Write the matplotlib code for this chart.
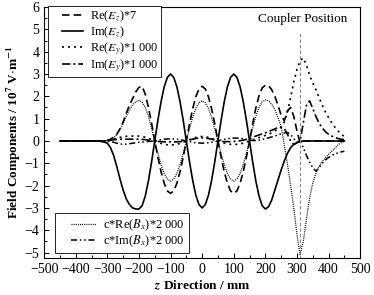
import matplotlib
matplotlib.use("Agg")
import matplotlib.pyplot as plt
from matplotlib.ticker import MultipleLocator
from matplotlib.legend_handler import HandlerLine2D

plt.rcParams['font.family'] = ['Liberation Serif', 'DejaVu Serif']
plt.rcParams['mathtext.fontset'] = 'stix'

# z positions along the structure, mm (every 10 mm)
z = list(range(-450, 451, 10))

# Im(Ez), solid
im_ez = [0]*13 + [
    -0.02, -0.05, -0.1, -0.3, -0.65, -1.15, -1.7, -2.2, -2.6, -2.85,
    -3.0, -3.05, -3.05, -2.9, -2.47, -1.79, -0.94, 0, 0.93, 1.76,
    2.43, 2.85, 3.0, 2.85, 2.43, 1.76, 0.93, 0, -0.93, -1.76,
    -2.43, -2.85, -3.0, -2.85, -2.43, -1.76, -0.93, 0, 0.93, 1.76,
    2.43, 2.85, 3.0, 2.85, 2.43, 1.76, 0.93, 0, -0.95, -1.8,
    -2.47, -2.9, -3.05, -2.95, -2.65, -2.2, -1.75, -1.3, -0.9, -0.55,
    -0.3, -0.15, -0.07, -0.02] + [0]*14

# Re(Ez)*7, dashed
re_ez = [0]*15 + [
    0.02, 0.08, 0.17, 0.3, 0.55, 0.85, 1.25, 1.6, 1.9, 2.2,
    2.4, 2.45, 2.1, 1.5, 0.8, 0, -0.73, -1.38, -1.9, -2.24,
    -2.35, -2.24, -1.9, -1.38, -0.73, 0, 0.76, 1.44, 1.98, 2.33,
    2.45, 2.33, 1.98, 1.44, 0.76, 0, -0.73, -1.38, -1.9, -2.24,
    -2.35, -2.24, -1.9, -1.38, -0.73, 0, 0.78, 1.48, 2.03, 2.38,
    2.5, 2.48, 2.3, 2.0, 1.6, 1.15, 0.9, 1.35, 1.5, 1.1,
    0.45, -0.1, 0, 0, 0, 0, 0, 0, 0, 0,
    0, 0, 0, 0, 0, 0]

# Re(Ey)*1000, dotted
re_ey = [0]*15 + [
    0.02, 0.05, 0.08, 0.12, 0.16, 0.2, 0.21, 0.22, 0.22, 0.22,
    0.22, 0.2, 0.17, 0.12, 0.06, 0, -0.06, -0.11, -0.15, -0.17,
    -0.18, -0.17, -0.15, -0.11, -0.06, 0, 0.06, 0.12, 0.16, 0.19,
    0.2, 0.19, 0.16, 0.12, 0.06, 0, -0.05, -0.1, -0.13, -0.15,
    -0.16, -0.15, -0.13, -0.1, -0.05, 0, 0.05, 0.1, 0.15, 0.2,
    0.25, 0.3, 0.37, 0.45, 0.53, 0.62, 0.85, 1.3, 1.95, 2.65,
    3.2, 3.6, 3.72, 3.4, 2.95, 2.6, 2.3, 1.95, 1.6, 1.3,
    1.05, 0.82, 0.62, 0.45, 0.3, 0.2]

# Im(Ey)*1000, dash-dot
im_ey = [0]*15 + [
    0.01, 0.03, 0.05, 0.07, 0.08, 0.08, 0.08, 0.08, 0.08, 0.08,
    0.08, 0.07, 0.06, 0.04, 0.02, 0, -0.02, -0.03, -0.04, -0.04,
    -0.04, -0.04, -0.04, -0.03, -0.02, 0, 0.04, 0.08, 0.11, 0.13,
    0.14, 0.13, 0.11, 0.08, 0.04, 0, -0.02, -0.03, -0.03, -0.03,
    -0.02, -0.01, 0.01, 0.04, 0.07, 0.1, 0.17, 0.22, 0.27, 0.32,
    0.37, 0.42, 0.48, 0.54, 0.6, 0.62, 0.55, 0.3, 0.0, -0.16,
    -0.08, 0.0, 0.8, 1.6, 1.8, 1.45, 1.1, 0.8, 0.58, 0.42,
    0.3, 0.22, 0.16, 0.11, 0.08, 0.06]

# c*Re(Bx)*2000, fine dotted
re_bx = [0]*15 + [
    0.02, 0.08, 0.15, 0.28, 0.5, 0.78, 1.1, 1.4, 1.62, 1.76,
    1.82, 1.75, 1.5, 1.1, 0.58, 0, -0.56, -1.06, -1.46, -1.71,
    -1.8, -1.71, -1.46, -1.06, -0.56, 0, 0.56, 1.06, 1.46, 1.71,
    1.8, 1.71, 1.46, 1.06, 0.56, 0, -0.56, -1.06, -1.46, -1.71,
    -1.8, -1.71, -1.46, -1.06, -0.56, 0, 0.58, 1.1, 1.5, 1.75,
    1.84, 1.8, 1.65, 1.4, 1.05, 0.65, -0.2, -1.05, -2.0, -3.0,
    -4.2, -5.1, -4.5, -3.5, -2.55, -1.9, -1.45, -1.15, -0.92, -0.75,
    -0.6, -0.47, -0.32, -0.18, -0.08, -0.02]

# c*Im(Bx)*2000, dash-dot-dot
im_bx = [0]*15 + [
    -0.01, -0.03, -0.06, -0.1, -0.13, -0.15, -0.14, -0.12, -0.1, -0.08,
    -0.06, -0.05, -0.04, -0.02, -0.01, 0, 0.03, 0.06, 0.08, 0.09,
    0.1, 0.09, 0.08, 0.06, 0.03, 0, -0.03, -0.06, -0.08, -0.09,
    -0.1, -0.09, -0.08, -0.06, -0.03, 0, 0.04, 0.07, 0.1, 0.12,
    0.13, 0.13, 0.12, 0.1, 0.07, 0.04, 0.02, 0.02, 0.04, 0.07,
    0.1, 0.14, 0.18, 0.22, 0.27, 0.32, 0.36, 0.38, 0.3, 0.1,
    -0.05, 0.0, -0.3, -0.65, -0.95, -1.2, -1.35, -1.2, -1.0, -0.85,
    -0.74, -0.65, -0.58, -0.53, -0.49, -0.46]

coupler_z = 310

fig, ax = plt.subplots(figsize=(3.74, 2.95), dpi=100)
fig.subplots_adjust(left=0.118, right=0.963, bottom=0.125, top=0.976)

l1, = ax.plot(z, re_ez, color='k', lw=1.2, ls=(0, (4.5, 2.5)), label='Re($E_z$)*7')
l2, = ax.plot(z, im_ez, color='k', lw=1.2, ls='-', label='Im($E_z$)')
l3, = ax.plot(z, re_ey, color='k', lw=1.2, ls=(0, (1.2, 2.4)), label='Re($E_y$)*1\u2009000')
l4, = ax.plot(z, im_ey, color='k', lw=1.2, ls=(0, (5, 1.8, 1.2, 1.8)), label='Im($E_y$)*1\u2009000')
l5, = ax.plot(z, re_bx, color='k', lw=0.9, ls=(0, (0.8, 0.9)), label='c*Re($B_x$)*2\u2009000')
l6, = ax.plot(z, im_bx, color='k', lw=1.1, ls=(0, (4, 1.8, 1, 1.8, 1, 1.8)), label='c*Im($B_x$)*2\u2009000')

# coupler position marker
ax.plot([coupler_z, coupler_z], [-5.3, 4.9], color='#888888', lw=0.8, ls=(0, (3, 2)))
ax.text(coupler_z + 8, 5.45, 'Coupler Position', ha='center', va='center', fontsize=9.5)

ax.set_xlim(-500, 500)
ax.set_ylim(-5.25, 6)
ax.xaxis.set_major_locator(MultipleLocator(100))
ax.xaxis.set_minor_locator(MultipleLocator(50))
ax.yaxis.set_major_locator(MultipleLocator(1))
ax.yaxis.set_minor_locator(MultipleLocator(0.5))
ax.tick_params(which='both', direction='in', labelsize=10, width=0.7)
ax.tick_params(which='major', length=3.5)
ax.tick_params(which='minor', length=2)
for s in ax.spines.values():
    s.set_linewidth(0.8)

ax.set_xlabel('$\\boldsymbol{z}$ Direction / mm', fontsize=9.5, fontweight='bold', labelpad=2)
ax.set_ylabel('Field Components / 10$^{\\mathbf{7}}$ V$\\cdot$m$^{\\mathbf{-1}}$',
              fontsize=9.5, fontweight='bold', labelpad=1)

# handles drawn with a gap on the left, as in the original
hmap = {l: HandlerLine2D(xpad=0.9) for l in (l1, l2, l3, l4, l5, l6)}

leg1 = ax.legend(handles=[l1, l2, l3, l4], loc='upper left', bbox_to_anchor=(0.012, 1.005),
                 fontsize=8.8, handlelength=2.6, handletextpad=0.6, labelspacing=0.0,
                 borderpad=0.25, borderaxespad=0, fancybox=False, framealpha=1, edgecolor='k',
                 handler_map=hmap)
leg1.get_frame().set_linewidth(0.6)
ax.add_artist(leg1)
leg2 = ax.legend(handles=[l5, l6], loc='lower left', bbox_to_anchor=(0.035, 0.02),
                 fontsize=9, handlelength=2.9, handletextpad=0.6, labelspacing=0.0,
                 borderpad=0.35, borderaxespad=0, fancybox=False, framealpha=1, edgecolor='k',
                 handler_map=hmap)
leg2.get_frame().set_linewidth(0.6)

plt.savefig('out.png', dpi=100)
